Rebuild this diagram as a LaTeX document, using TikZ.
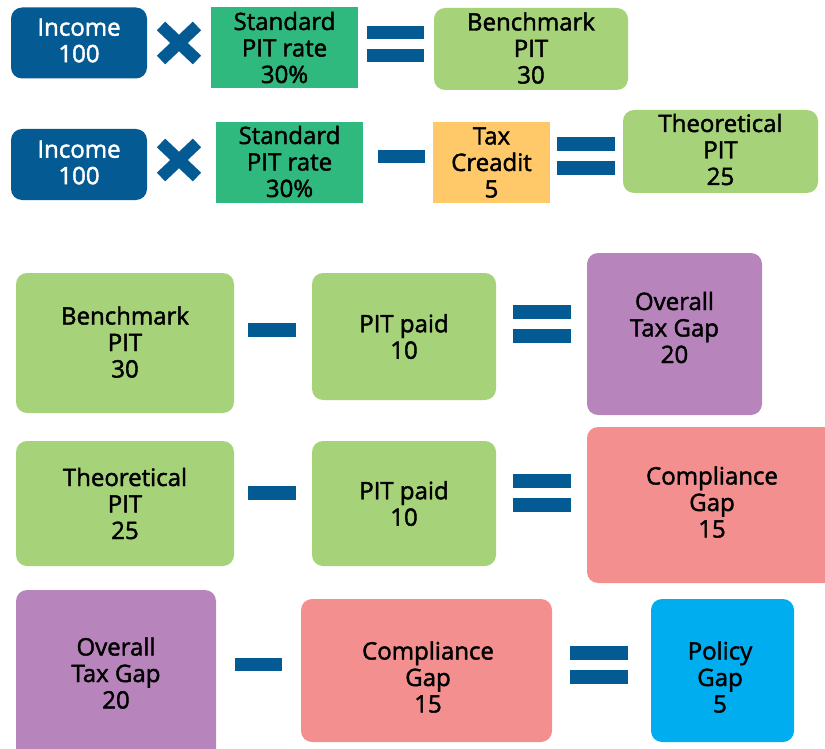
\documentclass[tikz,border=0pt]{standalone}
\usepackage{fontspec}
\usetikzlibrary{calc}
\setmainfont{Open Sans}[BoldFont={Open Sans}, BoldFeatures={FakeBold=1.8}]
\definecolor{dblue}{HTML}{045A93}
\definecolor{dgreen}{HTML}{2FB97F}
\definecolor{lgreen}{HTML}{A6D379}
\definecolor{orng}{HTML}{FFC868}
\definecolor{purp}{HTML}{B784BC}
\definecolor{pink}{HTML}{F38F8F}
\definecolor{cyan2}{HTML}{00ADEE}
\tikzset{
  box/.style={inner sep=0pt, align=center, text=black, font=\fontsize{24}{26.5}\selectfont\bfseries},
  rbox/.style={box, rounded corners=11pt},
  bar/.style={fill=dblue, inner sep=0pt, draw=none},
  xmark/.style={draw=dblue, line width=12pt},
}
\begin{document}
\begin{tikzpicture}[x=1pt,y=-1pt]
\useasboundingbox (0,0) rectangle (825,749);
% Row 1
\node[rbox, fill=dblue, minimum width=136, minimum height=71] (inc1) at (79,43) {};
\node[box, text=white] (inc1t) at (79,40.5) {Income\\100};
\coordinate (x1c) at (179,43);
\draw[xmark] ($(x1c)+(-18,-17)$) -- ($(x1c)+(18,17)$);
\draw[xmark] ($(x1c)+(-18,17)$) -- ($(x1c)+(18,-17)$);
\node[box, fill=dgreen, minimum width=147, minimum height=81] (spr1) at (284.5,47.5) {Standard\\PIT rate\\30\%};
\node[bar, minimum width=57, minimum height=13] (eq1a) at (395.5,32.5) {};
\node[bar, minimum width=57, minimum height=13] (eq1b) at (395.5,56) {};
\node[rbox, fill=lgreen, minimum width=194, minimum height=82] (bpit1) at (531,49) {};
\node[box] (bpit1t) at (531,48) {Benchmark\\PIT\\30};
% Row 2
\node[rbox, fill=dblue, minimum width=136, minimum height=71] (inc2) at (79,164.5) {};
\node[box, text=white] (inc2t) at (79,162.5) {Income\\100};
\coordinate (x2c) at (179,160);
\draw[xmark] ($(x2c)+(-18,-17)$) -- ($(x2c)+(18,17)$);
\draw[xmark] ($(x2c)+(-18,17)$) -- ($(x2c)+(18,-17)$);
\node[box, fill=dgreen, minimum width=147, minimum height=81] (spr2) at (289.5,162.5) {};
\node[box] (spr2t) at (289.5,161.5) {Standard\\PIT rate\\30\%};
\node[bar, minimum width=47, minimum height=13] (mi2) at (401.5,157) {};
\node[box, fill=orng, minimum width=117, minimum height=81] (tc) at (491.5,162.5) {Tax\\Creadit\\5};
\node[bar, minimum width=58, minimum height=14] (eq2a) at (586,144) {};
\node[bar, minimum width=58, minimum height=14] (eq2b) at (586,168) {};
\node[rbox, fill=lgreen, minimum width=195, minimum height=83] (tpit2) at (720.5,151.5) {};
\node[box] (tpit2t) at (720.5,149.5) {Theoretical\\PIT\\25};
% Row 3
\node[rbox, fill=lgreen, minimum width=218, minimum height=140] (bpit3) at (125,343) {};
\node[box] (bpit3t) at (125,342) {Benchmark\\PIT\\30};
\node[bar, minimum width=48, minimum height=14] (mi3) at (272,330) {};
\node[rbox, fill=lgreen, minimum width=184, minimum height=127] (pp3) at (404,336.5) {PIT paid\\10};
\node[bar, minimum width=58, minimum height=14] (eq3a) at (542,312) {};
\node[bar, minimum width=58, minimum height=14] (eq3b) at (542,336) {};
\node[rbox, fill=purp, minimum width=175, minimum height=162] (otg3) at (674.5,334) {};
\node[box] (otg3t) at (674.5,327.5) {Overall\\Tax Gap\\20};
% Row 4
\node[rbox, fill=lgreen, minimum width=218, minimum height=125] (tpit4) at (125,503.5) {Theoretical\\PIT\\25};
\node[bar, minimum width=48, minimum height=14] (mi4) at (272,493) {};
\node[rbox, fill=lgreen, minimum width=184, minimum height=125] (pp4) at (404,503.5) {PIT paid\\10};
\node[bar, minimum width=58, minimum height=14] (eq4a) at (542,481) {};
\node[bar, minimum width=58, minimum height=14] (eq4b) at (542,505) {};
\node[rbox, fill=pink, minimum width=263, minimum height=156] (cg4) at (718.5,505) {};
\node[box] (cg4t) at (712,502) {Compliance\\Gap\\15};
% Row 5
\node[rbox, fill=purp, minimum width=200, minimum height=180] (otg5) at (116,680) {};
\node[box] (otg5t) at (116,673) {Overall\\Tax Gap\\20};
\node[bar, minimum width=47, minimum height=13] (mi5) at (258.5,664.5) {};
\node[rbox, fill=pink, minimum width=251, minimum height=143] (cg5) at (426.5,670.5) {};
\node[box] (cg5t) at (428,677) {Compliance\\Gap\\15};
\node[bar, minimum width=58, minimum height=14] (eq5a) at (599,653) {};
\node[bar, minimum width=58, minimum height=14] (eq5b) at (599,677) {};
\node[rbox, fill=cyan2, minimum width=143, minimum height=143] (pg5) at (722.5,670.5) {};
\node[box] (pg5t) at (720,677) {Policy\\Gap\\5};
\end{tikzpicture}
\end{document}
